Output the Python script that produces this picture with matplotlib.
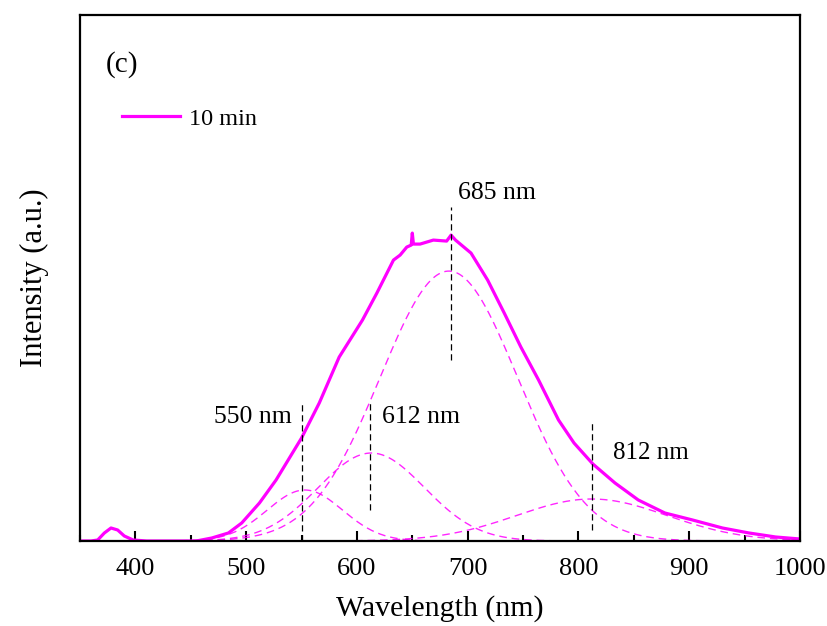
import numpy as np
import matplotlib.pyplot as plt
from matplotlib.ticker import MultipleLocator

plt.rcParams['font.family'] = ['Liberation Serif', 'DejaVu Serif']

wl = [350, 360, 366, 372, 378, 384, 390, 398, 410, 455, 469, 484, 496, 512,
      527, 550, 566, 584, 605, 618, 633, 639, 645, 649, 650, 651, 657, 669,
      681, 685, 689, 703, 718, 733, 748, 764, 782, 796, 813, 833, 854, 878,
      903, 930, 954, 978, 1000]
intensity = [0, 0, 1, 8, 13, 11, 5, 1, 0, 0, 3, 8, 18, 38,
             61, 103, 138, 184, 221, 248, 281, 286, 294, 296, 308, 297, 297, 301,
             300, 306, 301, 288, 261, 228, 194, 161, 121, 98, 77, 58, 41, 28,
             21, 13, 8, 4, 2]

# gaussian fit components: centre, amplitude, sigma
centers = [553, 613, 683, 812]
amps = [51, 88, 270, 42]
sigmas = [34, 48, 62, 68]

# peak markers: position, line span, label
peak_pos = [550, 612, 685, 812]
peak_lo = [0, 31, 181, 11]
peak_hi = [138, 141, 334, 119]
peak_labels = ['550 nm', '612 nm', '685 nm', '812 nm']

fig = plt.figure(figsize=(8.28, 6.26), dpi=100)
ax = fig.add_axes([0.0966, 0.1358, 0.8696, 0.840])

x = np.linspace(350, 1000, 651)
for c, a, s in zip(centers, amps, sigmas):
    ax.plot(x, a * np.exp(-(x - c) ** 2 / (2 * s ** 2)), color='#ff00ff',
            lw=1.0, ls=(0, (5.5, 3.5)), alpha=0.85)

ax.plot(wl, intensity, color='#ff00ff', lw=2.3, label='10 min')

for p, lo, hi in zip(peak_pos, peak_lo, peak_hi):
    ax.plot([p, p], [lo, hi], color='black', lw=0.9, ls=(0, (5, 3)))

ax.text(541, 124, peak_labels[0], fontsize=18.5, ha='right', va='center')
ax.text(623, 124, peak_labels[1], fontsize=18.5, ha='left', va='center')
ax.text(691, 348, peak_labels[2], fontsize=18.5, ha='left', va='center')
ax.text(831, 88, peak_labels[3], fontsize=18, ha='left', va='center')

ax.text(0.036, 0.906, '(c)', transform=ax.transAxes, fontsize=21,
        ha='left', va='center')

ax.legend(loc='upper left', bbox_to_anchor=(0.045, 0.842), frameon=False,
          fontsize=17.5, handlelength=2.4, handletextpad=0.35, borderaxespad=0)

ax.set_xlim(350, 1000)
ax.set_ylim(0, 526)
ax.xaxis.set_major_locator(MultipleLocator(100))
ax.xaxis.set_minor_locator(MultipleLocator(50))
ax.set_xticks([400, 500, 600, 700, 800, 900, 1000])
ax.tick_params(axis='x', which='both', direction='in', width=1.5,
               labelsize=19, pad=12)
ax.tick_params(axis='x', which='major', length=7)
ax.tick_params(axis='x', which='minor', length=4)
ax.set_yticks([])
for sp in ax.spines.values():
    sp.set_linewidth(1.6)

ax.set_xlabel('Wavelength (nm)', fontsize=21.5, labelpad=11)
ax.set_ylabel('Intensity (a.u.)', fontsize=22, labelpad=22)

fig.savefig('out.png', dpi=100)
